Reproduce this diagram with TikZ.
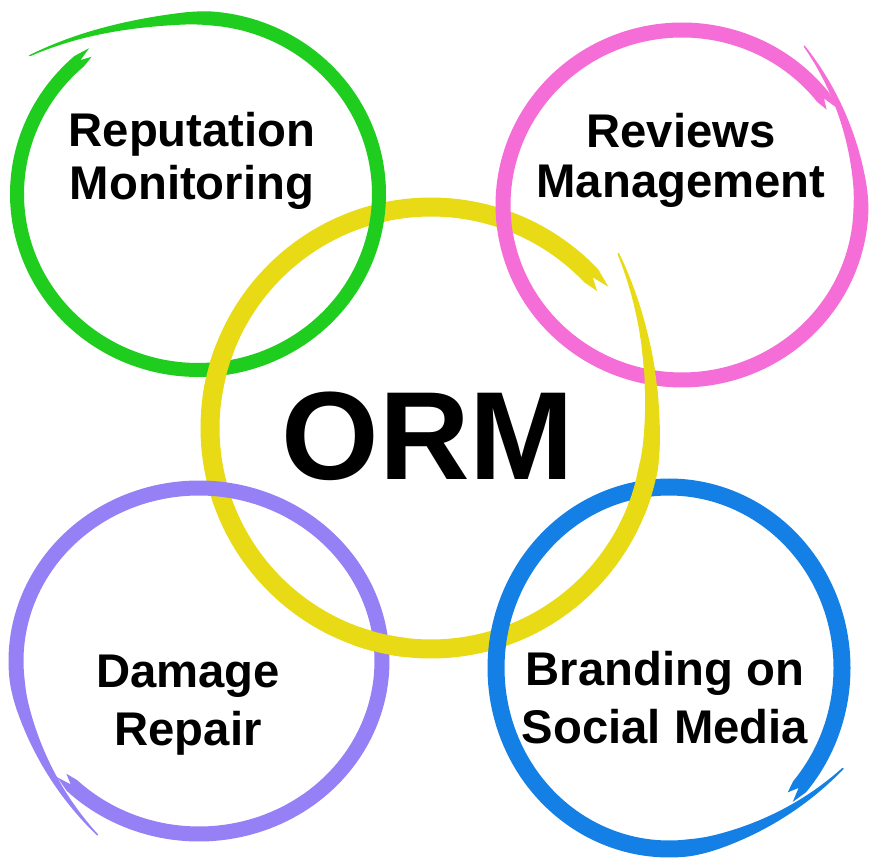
\documentclass[tikz,border=0pt]{standalone}
\usepackage{fontspec}
\setmainfont{Liberation Sans}
\definecolor{ringgreen}{RGB}{30,205,30}
\definecolor{ringpink}{RGB}{245,110,215}
\definecolor{ringyellow}{RGB}{232,218,20}
\definecolor{ringpurple}{RGB}{150,128,245}
\definecolor{ringblue}{RGB}{20,128,230}
\tikzset{
  declare function={off(\x,\y)=\y*(max(0,1-\x/45))^2; wid(\x,\y)=\y*min(1,0.1+\x/60);},
  lbl/.style={align=center, inner sep=0pt, font=\bfseries\fontsize{26.9pt}{#1}\selectfont}
}
% brush ring: cx, cy, rx, ry, start angle, sweep, tail offset, width, colour
\newcommand{\brush}[9]{%
  \fill[#9] plot[domain=0:#6,samples=200] ({#1+(#3+off(\x,#7)+wid(\x,#8)/2)*cos(#5-\x)},{#2+(#4+off(\x,#7)+wid(\x,#8)/2)*sin(#5-\x)})
    -- ({#1+(#3+0.3*#8)*cos(#5-#6-5)},{#2+(#4+0.3*#8)*sin(#5-#6-5)})
    -- ({#1+#3*cos(#5-#6-0.5)},{#2+#4*sin(#5-#6-0.5)})
    -- ({#1+(#3-0.3*#8)*cos(#5-#6-4)},{#2+(#4-0.3*#8)*sin(#5-#6-4)})
    -- plot[domain=0:#6,samples=200] ({#1+(#3+off(#6-\x,#7)-wid(#6-\x,#8)/2)*cos(#5-#6+\x)},{#2+(#4+off(#6-\x,#7)-wid(#6-\x,#8)/2)*sin(#5-#6+\x)})
    -- cycle;}
\begin{document}
\begin{tikzpicture}[x=0.02cm, y=0.02cm]
  \fill[white] (0,0) rectangle (874,864);
  \useasboundingbox (0,0) rectangle (874,864);
  \brush{431}{436}{221}{221}{43}{359.5}{35}{19}{ringyellow}
  \brush{198}{670}{181}{176}{140}{369}{39}{14}{ringgreen}
  \brush{682}{659}{179}{175}{53}{375}{24}{15}{ringpink}
  \brush{199}{203}{183}{173}{241}{375}{26}{15}{ringpurple}
  \brush{669}{196}{173}{181}{-29}{372}{26}{17}{ringblue}
  % yellow on top where it passes over
  \foreach \px/\py in {217/491, 653/491, 380/217, 652/376}{
    \begin{scope}
      \clip (\px,\py) circle (28);
      \brush{431}{436}{221}{221}{43}{359.5}{35}{19}{ringyellow}
    \end{scope}
  }
  \node[lbl=30pt] (rep) at (192,703) {Reputation\\Monitoring};
  \node[lbl=28.5pt] (rev) at (681,704) {Reviews\\Management};
  \node[inner sep=0pt, font=\bfseries\fontsize{71.4pt}{80pt}\selectfont] (orm) at (428,428) {ORM};
  \node[lbl=33.4pt] (dam) at (188,159) {Damage\\Repair};
  \node[lbl=32.9pt] (bra) at (665,166) {Branding on\\Social Media};
\end{tikzpicture}
\end{document}
